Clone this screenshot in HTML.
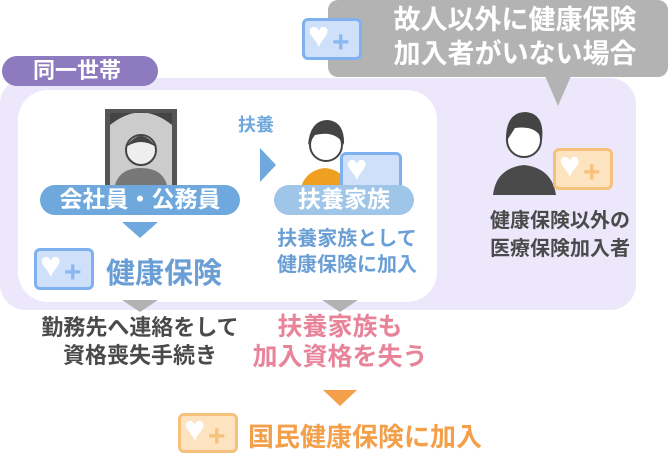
<!DOCTYPE html>
<html><head><meta charset="utf-8"><style>
body{margin:0;width:668px;height:456px;background:#fff;position:relative;overflow:hidden;font-family:"Liberation Sans","Noto Sans CJK JP",sans-serif;font-weight:bold}
.a{position:absolute}
.t{position:absolute;white-space:nowrap;text-align:center}
.card{position:absolute;border-radius:6px;box-sizing:border-box}
</style></head><body>
<div class="a" style="left:0;top:78px;width:636px;height:232px;background:#ece7fa;border-radius:26px"></div>
<div class="a" style="left:2px;top:56px;width:156px;height:30px;background:#8e7bbf;border-radius:15px"></div>
<div class="t" style="left:22px;top:56px;width:110px;font-size:22px;color:#fff;line-height:30px">同一世帯</div>
<div class="a" style="left:18px;top:90px;width:419px;height:212px;background:#fff;border-radius:30px"></div>
<div class="a" style="left:328px;top:0;width:340px;height:77px;background:#b3b3b3;border-radius:10px"></div>
<svg class="a" style="left:0;top:0" width="668" height="456">
<polygon points="545,76 571,76 558,106" fill="#b3b3b3"/>
<polygon points="122,222 158,222 140,238" fill="#6fa8dc"/>
<polygon points="260,148 276,165 260,182" fill="#6fa8dc"/>
<polygon points="122,300 158,300 140,312" fill="#b3b3b3"/>
<polygon points="322,300 358,300 340,312" fill="#b3b3b3"/>
<polygon points="323,390 357,390 340,406" fill="#f4a04a"/>
<rect x="105" y="109" width="72" height="76" fill="#555"/>
<rect x="110" y="113" width="62" height="72" fill="#ccc"/>
<path d="M110,113 L172,113 L172,125 Q141,100 110,125Z" fill="#444"/>
<circle cx="141" cy="150" r="15" fill="#eee" stroke="#444" stroke-width="2"/>
<path d="M126,147 Q141,125 156,147 Q141,137 126,147Z" fill="#444"/>
<path d="M115,185 Q120,168 141,168 Q162,168 167,185Z" fill="#777"/>
<path d="M300,190 Q305,170 325,168 Q345,170 350,190Z" fill="#f0a020"/>
<circle cx="326" cy="145" r="16" fill="#fff" stroke="#444" stroke-width="2"/>
<path d="M308,145 Q310,120 328,120 Q345,122 344,145 Q336,130 315,135Z" fill="#444"/>
<path d="M493,195 Q496,168 524,165 Q552,168 556,195Z" fill="#4a4a4a"/>
<circle cx="524" cy="140" r="17" fill="#fff" stroke="#444" stroke-width="2"/>
<path d="M506,142 Q505,112 526,112 Q545,114 542,140 Q537,125 515,128Z" fill="#444"/>
</svg>
<div class="card" style="left:302px;top:18px;width:60px;height:42px;background:#cfe0fb;border:3px solid #7fb0f0"></div>
<div class="t" style="left:308px;top:14px;font-size:36px;color:#fff">♥</div><div class="t" style="left:332px;top:26px;font-size:30px;color:#8ab8f3">+</div>
<div class="card" style="left:340px;top:152px;width:62px;height:40px;background:#cfe0fb;border:3px solid #7fb0f0"></div>
<div class="t" style="left:346px;top:147px;font-size:36px;color:#fff">♥</div>
<div class="card" style="left:34px;top:248px;width:60px;height:42px;background:#cfe0fb;border:3px solid #7fb0f0"></div>
<div class="t" style="left:40px;top:244px;font-size:36px;color:#fff">♥</div><div class="t" style="left:64px;top:256px;font-size:30px;color:#8ab8f3">+</div>
<div class="card" style="left:553px;top:148px;width:60px;height:42px;background:#fde3c0;border:3px solid #f6c17d"></div>
<div class="t" style="left:559px;top:144px;font-size:36px;color:#fff">♥</div><div class="t" style="left:583px;top:156px;font-size:30px;color:#f6c17d">+</div>
<div class="card" style="left:178px;top:413px;width:60px;height:40px;background:#fde3c0;border:3px solid #f6c17d"></div>
<div class="t" style="left:184px;top:408px;font-size:36px;color:#fff">♥</div><div class="t" style="left:208px;top:420px;font-size:30px;color:#f6c17d">+</div>
<div class="t" style="left:370px;top:3px;width:290px;font-size:27px;line-height:34px;color:#fff">故人以外に健康保険<br>加入者がいない場合</div>
<div class="a" style="left:40px;top:185px;width:200px;height:30px;background:#6fa8dc;border-radius:15px"></div>
<div class="t" style="left:40px;top:184px;width:200px;font-size:23px;line-height:30px;color:#fff">会社員・公務員</div>
<div class="a" style="left:274px;top:185px;width:140px;height:30px;background:#9fc5e8;border-radius:15px"></div>
<div class="t" style="left:274px;top:184px;width:140px;font-size:23px;line-height:30px;color:#fff">扶養家族</div>
<div class="t" style="left:238px;top:111px;font-size:18px;color:#6fa8dc">扶養</div>
<div class="t" style="left:106px;top:250px;font-size:29px;color:#6a9fd6">健康保険</div>
<div class="t" style="left:262px;top:226px;width:170px;font-size:20px;line-height:26px;color:#6a9fd6">扶養家族として<br>健康保険に加入</div>
<div class="t" style="left:450px;top:207px;width:220px;font-size:20px;line-height:28px;color:#4a4a4a">健康保険以外の<br>医療保険加入者</div>
<div class="t" style="left:10px;top:314px;width:260px;font-size:22px;line-height:28px;color:#4a4a4a">勤務先へ連絡をして<br>資格喪失手続き</div>
<div class="t" style="left:230px;top:312px;width:220px;font-size:25px;line-height:30px;color:#e8849a">扶養家族も<br>加入資格を失う</div>
<div class="t" style="left:248px;top:417px;font-size:26px;color:#f4a04a">国民健康保険に加入</div>
</body></html>
